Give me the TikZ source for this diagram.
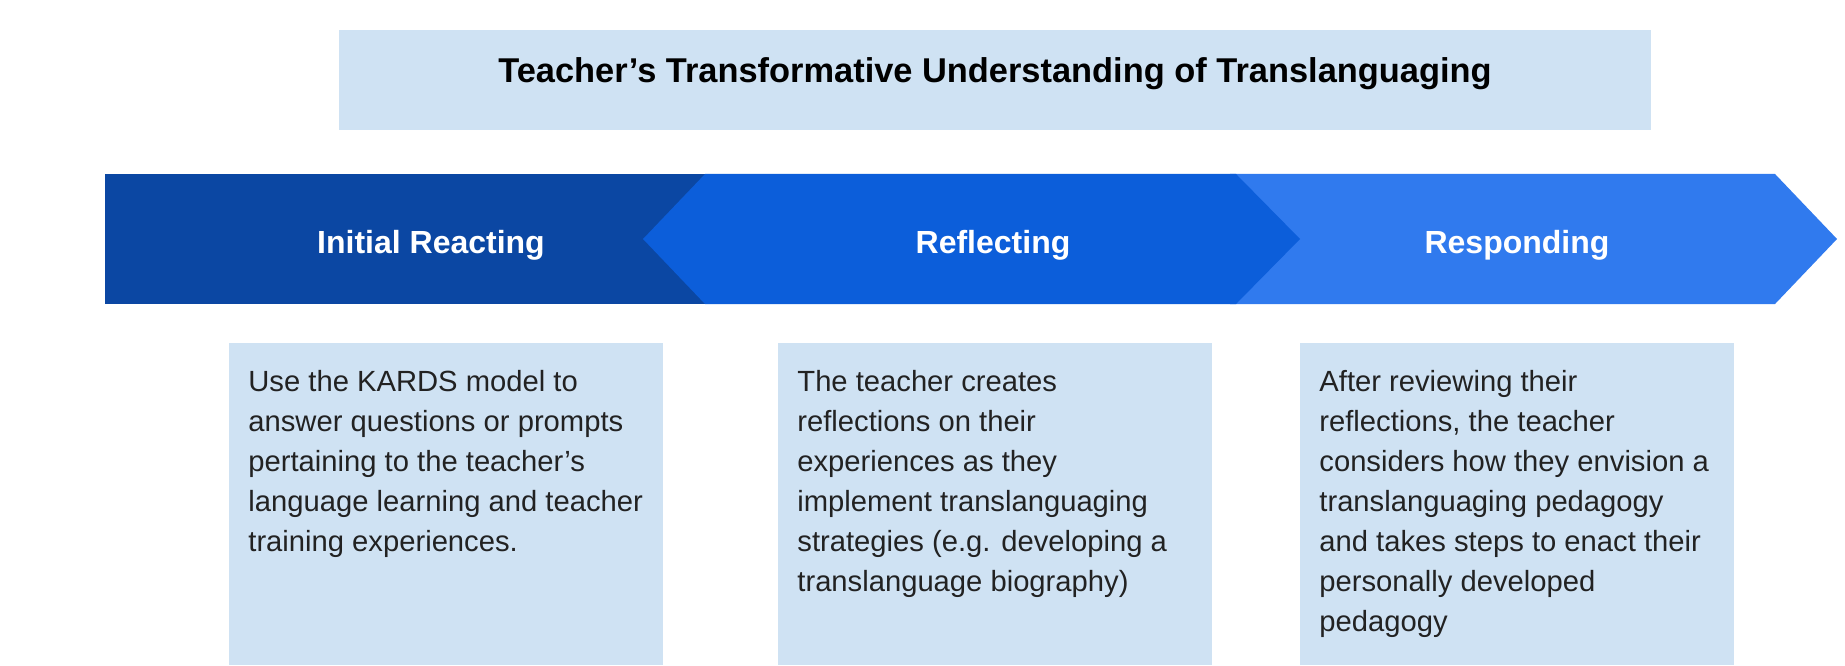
\documentclass[tikz,border=0pt]{standalone}
\usepackage{fontspec}
\setmainfont{Liberation Sans}
\usepackage{xcolor}
\definecolor{paleblue}{RGB}{207,226,243}
\definecolor{navyband}{RGB}{11,71,163}
\definecolor{midband}{RGB}{12,94,218}
\definecolor{lightband}{RGB}{48,122,238}
\definecolor{bodytxt}{RGB}{34,34,34}

\begin{document}
\begin{tikzpicture}[x=0.5pt,y=0.5pt,
    heading/.style={font=\fontsize{17.2}{20}\selectfont\bfseries,inner sep=0pt,anchor=base},
    phase/.style={font=\fontsize{16}{19}\selectfont\bfseries,text=white,inner sep=0pt,anchor=base},
    note/.style={font=\fontsize{14.6}{20}\selectfont,text=bodytxt,inner sep=0pt,anchor=base west}]
    \useasboundingbox (0,0) rectangle (1845,665);
    % title bar
    \fill[paleblue] (339,534.5) rectangle (1651,634.5);
    \node[heading] (title) at (995,582) {Teacher’s Transformative Understanding of Translanguaging};
    % the three stages as one arrow band
    \fill[navyband] (105,361) rectangle (720,491);
    \fill[lightband] (1230,361) -- (1775,361) -- (1837,426) -- (1775,491) -- (1230,491) -- cycle;
    \fill[midband] (643,426) -- (705,491) -- (1236,491) -- (1300,426) -- (1236,361) -- (705,361) -- cycle;
    \node[phase] (react) at (431,412) {Initial Reacting};
    \node[phase] (reflect) at (993,412) {Reflecting};
    \node[phase] (respond) at (1517,412) {Responding};
    % description boxes under each stage
    \fill[paleblue] (229,0) rectangle (663,322);
    \fill[paleblue] (778,0) rectangle (1212,322);
    \fill[paleblue] (1300,0) rectangle (1734,322);
    \node[note] (reactnote) at (248,274) {\parbox[t]{210pt}{\raggedright Use the KARDS model to\\answer questions or prompts\\pertaining to the teacher’s\\language learning and teacher\\training experiences.}};
    \node[note] (reflectnote) at (797,274) {\parbox[t]{210pt}{\raggedright The teacher creates\\reflections on their\\experiences as they\\implement translanguaging\\strategies (e.g. developing a\\translanguage biography)}};
    \node[note] (respondnote) at (1319,274) {\parbox[t]{210pt}{\raggedright After reviewing their\\reflections, the teacher\\considers how they envision a\\translanguaging pedagogy\\and takes steps to enact their\\personally developed\\pedagogy}};
\end{tikzpicture}
\end{document}
